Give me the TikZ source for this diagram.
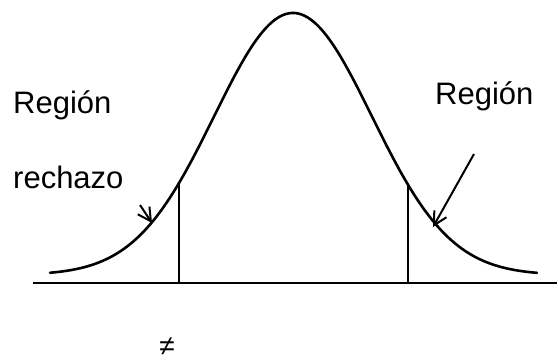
\documentclass[tikz,border=0pt]{standalone}
\usepackage{fontspec}
\setmainfont{Liberation Sans}
\usetikzlibrary{arrows.meta}

\begin{document}
\begin{tikzpicture}[
  x=1pt, y=-1pt,
  font=\fontsize{31}{36}\selectfont,
  curva/.style={line width=2.6pt, line cap=round},
  eje/.style={line width=2.2pt},
  corte/.style={line width=2.2pt},
  flecha/.style={-{Straight Barb[length=13pt, width=14pt]}, line width=2pt},
  etiqueta/.style={anchor=base west, inner sep=0pt}
]
  \useasboundingbox (0,0) rectangle (558,362);

  % curva normal
  \draw[curva] plot[domain=50:537, samples=150, smooth]
    (\x, {275-262*exp(-((\x-293)/100)^2/1.2413)});

  % eje y cortes
  \coordinate (ejeizq) at (33,283);
  \coordinate (ejeder) at (557,283);
  \draw[eje] (ejeizq) -- (ejeder);

  \coordinate (corteizq) at (179,{275-262*exp(-((179-293)/100)^2/1.2413)});
  \coordinate (corteder) at (408,{275-262*exp(-((408-293)/100)^2/1.2413)});
  \draw[corte] (corteizq) -- (corteizq |- ejeizq);
  \draw[corte] (corteder) -- (corteder |- ejeizq);

  % textos
  \node[etiqueta] (regionizq) at (13,113) {Región};
  \node[etiqueta] (rechazo) at (13,188) {rechazo};
  \node[etiqueta] (regionder) at (435,104) {Región};
  \node[inner sep=0pt, anchor=south, font=\fontsize{28}{32}\selectfont]
    (distinto) at (167,356) {≠};

  % flechas
  \coordinate (flechaizq) at (140,205);
  \coordinate (puntaizq) at (152,223);
  \coordinate (flechader) at (474,154);
  \coordinate (puntader) at (433,227);
  \draw[flecha] (flechaizq) -- (puntaizq);
  \draw[flecha] (flechader) -- (puntader);
\end{tikzpicture}
\end{document}
